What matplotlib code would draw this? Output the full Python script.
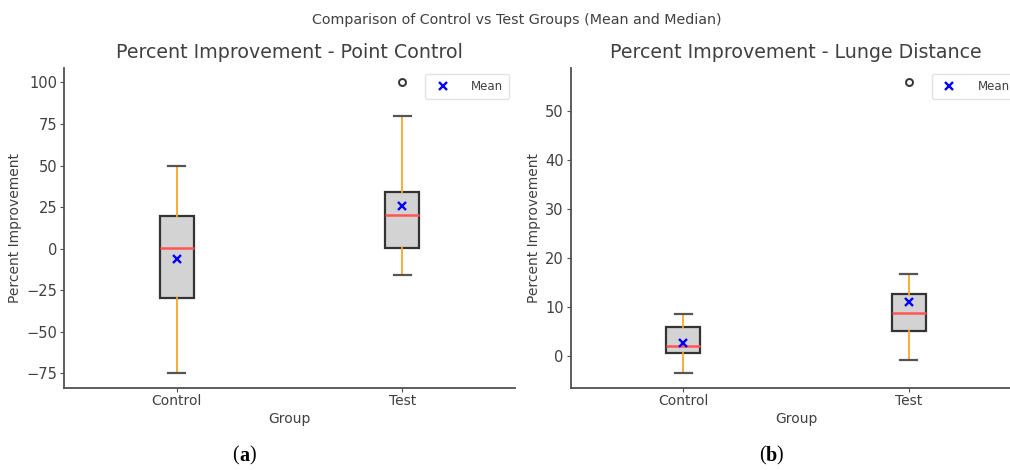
import matplotlib
matplotlib.use("Agg")
import matplotlib.pyplot as plt

groups = ["Control", "Test"]

# Percent improvement - point control
pc_whislo = [-75.0, -16.0]
pc_q1 = [-29.5, 0.5]
pc_med = [0.5, 20.5]
pc_q3 = [19.5, 34.3]
pc_whishi = [50.0, 80.0]
pc_mean = [-6.3, 25.6]
pc_fliers = [[], [100.0]]

# Percent improvement - lunge distance
ld_whislo = [-3.6, -0.8]
ld_q1 = [0.5, 5.0]
ld_med = [1.9, 8.8]
ld_q3 = [5.8, 12.6]
ld_whishi = [8.5, 16.8]
ld_mean = [2.7, 11.0]
ld_fliers = [[], [55.8]]

TEXT = "#404040"
SPINE = "#505050"


def draw_panel(ax, title, whislo, q1, med, q3, whishi, mean, fliers):
    stats = []
    for i, g in enumerate(groups):
        stats.append(dict(label=g, whislo=whislo[i], q1=q1[i], med=med[i],
                          q3=q3[i], whishi=whishi[i], fliers=fliers[i]))
    ax.bxp(stats, positions=[1, 2], widths=0.15, patch_artist=True,
           boxprops=dict(facecolor="lightgray", edgecolor="#333333", linewidth=1.6),
           whiskerprops=dict(color="#f9a825", linewidth=1.3),
           capprops=dict(color="#555555", linewidth=1.6),
           medianprops=dict(color="#ff5555", linewidth=1.8),
           flierprops=dict(marker="o", markerfacecolor="none",
                           markeredgecolor="#333333", markersize=5,
                           markeredgewidth=1.4))
    ax.plot([1, 2], mean, linestyle="none", marker="x", color="blue",
            markersize=6, markeredgewidth=1.7, label="Mean", zorder=5)
    ax.set_xlim(0.5, 2.5)
    ax.set_title(title, fontsize=13.7, color=TEXT, pad=7)
    ax.set_xlabel("Group", fontsize=10, color=TEXT, labelpad=3)
    ax.set_ylabel("Percent Improvement", fontsize=10, color=TEXT, labelpad=3)
    for side in ("top", "right"):
        ax.spines[side].set_visible(False)
    for side in ("left", "bottom"):
        ax.spines[side].set_color(SPINE)
        ax.spines[side].set_linewidth(1.3)
    ax.tick_params(labelsize=10.5, colors=SPINE, labelcolor=TEXT, length=3, pad=2)
    ax.tick_params(axis="x", labelsize=10, pad=1.5)
    leg = ax.legend(loc="upper right", fontsize=8.5, frameon=True,
                    handletextpad=1.4, borderpad=0.5)
    leg.get_frame().set_edgecolor("#dddddd")
    for t in leg.get_texts():
        t.set_color(TEXT)


fig = plt.figure(figsize=(10.1, 4.7), dpi=100)
ax1 = fig.add_axes([0.0634, 0.1745, 0.4465, 0.681])
ax2 = fig.add_axes([0.565, 0.1745, 0.4465, 0.681])

draw_panel(ax1, "Percent Improvement - Point Control",
           pc_whislo, pc_q1, pc_med, pc_q3, pc_whishi, pc_mean, pc_fliers)
draw_panel(ax2, "Percent Improvement - Lunge Distance",
           ld_whislo, ld_q1, ld_med, ld_q3, ld_whishi, ld_mean, ld_fliers)

fig.text(0.512, 0.957, "Comparison of Control vs Test Groups (Mean and Median)",
         ha="center", va="center", fontsize=10.3, color=TEXT)

# Panel captions: bold letter between regular parentheses
for xc, letter in ((0.2416, "a"), (0.7634, "b")):
    y = 0.02
    kw = dict(va="baseline", fontsize=14.5, family="Liberation Serif", color="black")
    fig.text(xc, y, letter, ha="center", weight="bold", **kw)
    fig.text(xc - 0.0052, y, "(", ha="right", **kw)
    fig.text(xc + 0.0052, y, ")", ha="left", **kw)

fig.savefig("out.png", dpi=100)
